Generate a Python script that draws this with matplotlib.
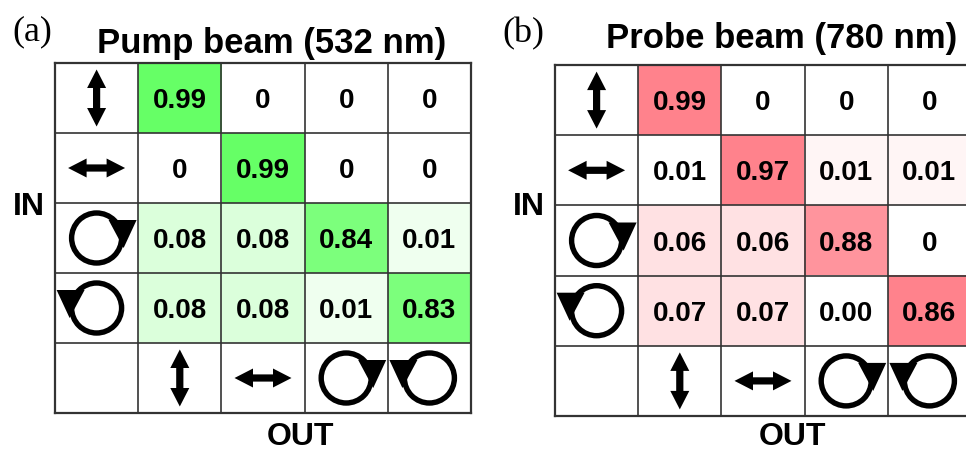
import numpy as np
import matplotlib
matplotlib.use('Agg')
import matplotlib.pyplot as plt
from matplotlib import transforms
from matplotlib.patches import Polygon, Circle

plt.rcParams['font.family'] = ['Liberation Sans', 'DejaVu Sans']

# ---------------------------
# data
# ---------------------------
states = ['v', 'h', 'cw', 'ccw']   # IN rows / OUT columns

pump_labels = [['0.99', '0', '0', '0'],
               ['0', '0.99', '0', '0'],
               ['0.08', '0.08', '0.84', '0.01'],
               ['0.08', '0.08', '0.01', '0.83']]
# cell fill strength (0 = white, 1 = full colour)
pump_shade = [[1.0, 0, 0, 0],
              [0, 1.0, 0, 0],
              [0.23, 0.23, 0.85, 0.10],
              [0.23, 0.23, 0.10, 0.85]]

probe_labels = [['0.99', '0', '0', '0'],
                ['0.01', '0.97', '0.01', '0.01'],
                ['0.06', '0.06', '0.88', '0'],
                ['0.07', '0.07', '0.00', '0.86']]
probe_shade = [[1.0, 0, 0, 0],
               [0, 1.0, 0.08, 0.08],
               [0.24, 0.24, 0.85, 0],
               [0.24, 0.24, 0, 1.0]]

green = np.array([0.40, 1.0, 0.40])
red = np.array([1.0, 0.51, 0.55])

W, H, DPI = 966, 453, 100
fig = plt.figure(figsize=(W / DPI, H / DPI), dpi=DPI)
fig.patch.set_facecolor('white')

line_c = '#333333'


def px(x, y):
    # pixel position (from top left) -> figure fraction
    return x / W, 1 - y / H


def draw_icon(ax, kind, cx, cy):
    # icon geometry given in pixels around the cell centre
    tr = (transforms.Affine2D().scale(1 / DPI) + fig.dpi_scale_trans
          + transforms.ScaledTranslation(cx, cy, ax.transData))
    arrow = np.array([(0, 28.5), (9.5, 10), (3.6, 10), (3.6, -10), (9.5, -10),
                      (0, -28.5), (-9.5, -10), (-3.6, -10), (-3.6, 10), (-9.5, 10)])
    if kind == 'v':
        ax.add_patch(Polygon(arrow, closed=True, fc='black', ec='none', transform=tr))
    elif kind == 'h':
        ax.add_patch(Polygon(arrow[:, ::-1], closed=True, fc='black', ec='none', transform=tr))
    else:
        s = 1 if kind == 'cw' else -1
        ax.add_patch(Circle((0, 0), 25, fill=False, ec='black', lw=3.9, transform=tr))
        tri = [(s * 12, 18), (s * 40, 18), (s * 27, -10)]
        ax.add_patch(Polygon(tri, closed=True, fc='black', ec='none', transform=tr))


def draw_table(rect, labels, shade, base):
    ax = fig.add_axes(rect)
    n = len(states) + 1
    img = np.ones((n, n, 3))
    for r in range(len(states)):
        for c in range(len(states)):
            s = shade[r][c]
            img[r, c + 1] = (1 - s) * np.ones(3) + s * base
    ax.imshow(img, extent=(0, n, n, 0), aspect='auto', interpolation='nearest')
    ax.set_xlim(0, n)
    ax.set_ylim(n, 0)
    for i in range(1, n):
        ax.axvline(i, color=line_c, lw=1.2)
        ax.axhline(i, color=line_c, lw=1.2)
    for sp in ax.spines.values():
        sp.set_color(line_c)
        sp.set_linewidth(1.6)
    ax.set_xticks([])
    ax.set_yticks([])
    for r in range(len(states)):
        for c in range(len(states)):
            ax.text(c + 1.5, r + 0.5, labels[r][c], ha='center', va='center_baseline',
                    fontsize=20, fontweight='bold')
    for i, k in enumerate(states):
        draw_icon(ax, k, 0.5, i + 0.5)
        draw_icon(ax, k, i + 1.5, n - 0.5)
    return ax


draw_table([55 / W, 1 - 413 / H, 416 / W, 350 / H], pump_labels, pump_shade, green)
draw_table([555 / W, 1 - 416 / H, 416 / W, 351 / H], probe_labels, probe_shade, red)

# titles and labels
fig.text(*px(272, 53), 'Pump beam (532 nm)', ha='center', va='baseline',
         fontsize=25, fontweight='bold')
fig.text(*px(782, 48), 'Probe beam (780 nm)', ha='center', va='baseline',
         fontsize=25, fontweight='bold')
fig.text(*px(12, 40), '(a)', ha='left', va='baseline', fontsize=26,
         family=['Liberation Serif', 'DejaVu Serif'])
fig.text(*px(502, 42), '(b)', ha='left', va='baseline', fontsize=26,
         family=['Liberation Serif', 'DejaVu Serif'])
fig.text(*px(29, 215), 'IN', ha='center', va='baseline', fontsize=23, fontweight='bold')
fig.text(*px(529, 215), 'IN', ha='center', va='baseline', fontsize=23, fontweight='bold')
fig.text(*px(300, 452), 'OUT', ha='center', va='bottom', fontsize=23, fontweight='bold')
fig.text(*px(793, 452), 'OUT', ha='center', va='bottom', fontsize=23, fontweight='bold')

fig.savefig('out.png', dpi=DPI, facecolor='white')
